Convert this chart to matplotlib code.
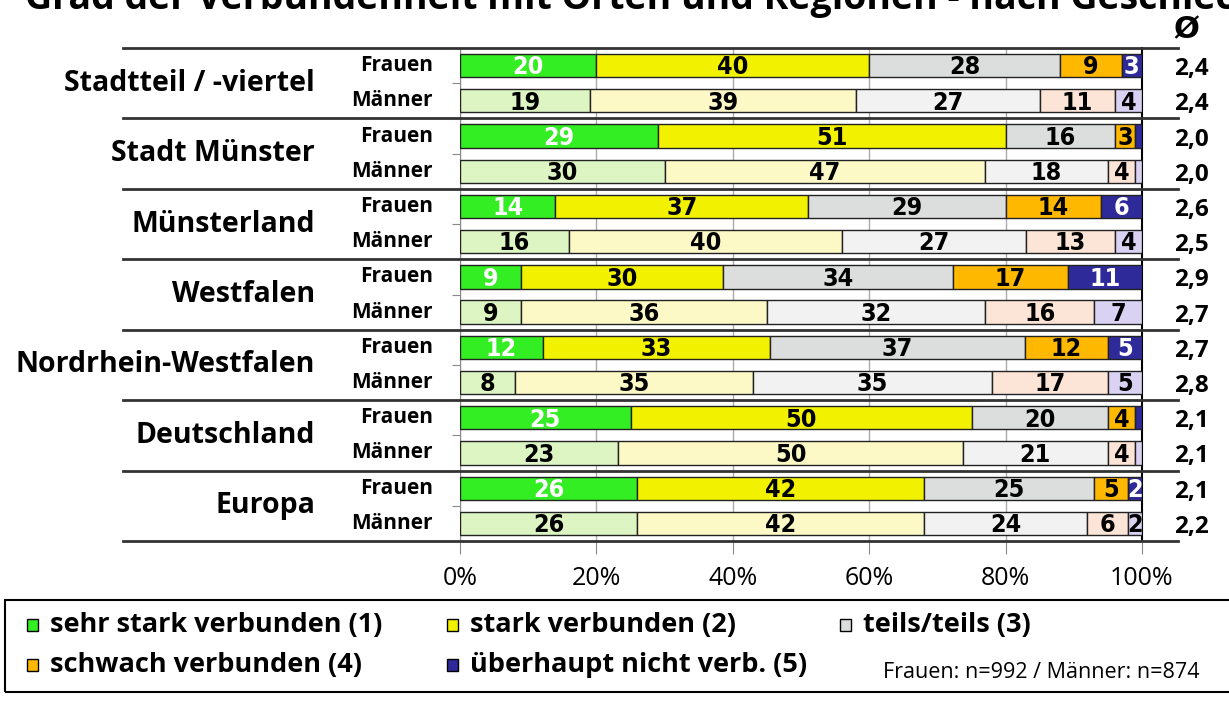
import matplotlib
matplotlib.use('Agg')
import matplotlib.pyplot as plt
from matplotlib.patches import Rectangle
from matplotlib.transforms import blended_transform_factory

# data
regions = ['Stadtteil / -viertel', 'Stadt Münster', 'Münsterland', 'Westfalen',
           'Nordrhein-Westfalen', 'Deutschland', 'Europa']
genders = ['Frauen', 'Männer']
categories = ['sehr stark verbunden (1)', 'stark verbunden (2)', 'teils/teils (3)',
              'schwach verbunden (4)', 'überhaupt nicht verb. (5)']

frauen = [[20, 40, 28, 9, 3],
          [29, 51, 16, 3, 1],
          [14, 37, 29, 14, 6],
          [9, 30, 34, 17, 11],
          [12, 33, 37, 12, 5],
          [25, 50, 20, 4, 1],
          [26, 42, 25, 5, 2]]
maenner = [[19, 39, 27, 11, 4],
           [30, 47, 18, 4, 1],
           [16, 40, 27, 13, 4],
           [9, 36, 32, 16, 7],
           [8, 35, 35, 17, 5],
           [23, 50, 21, 4, 1],
           [26, 42, 24, 6, 2]]
mean_f = ['2,4', '2,0', '2,6', '2,9', '2,7', '2,1', '2,1']
mean_m = ['2,4', '2,0', '2,5', '2,7', '2,8', '2,1', '2,2']

col_f = ['#33EE22', '#F2F200', '#DCDEDE', '#FFB800', '#2E2A9A']
col_m = ['#DDF5C2', '#FDF9C6', '#F2F2F2', '#FCE4D6', '#D9D2F2']
txt_f = ['white', 'black', 'black', 'black', 'white']

W, H = 1229, 708
fig = plt.figure(figsize=(W / 100, H / 100), dpi=100)
ax = fig.add_axes([460 / W, 1 - 541 / H, 682 / W, 493 / H])

num_font = dict(family=['DejaVu Sans'], weight='bold', stretch='condensed')
lab_font = dict(family=['Open Sans', 'DejaVu Sans'], weight='bold')

for g in range(len(regions)):
    for k, (vals, cols, tcols) in enumerate([(frauen[g], col_f, txt_f),
                                             (maenner[g], col_m, ['black'] * 5)]):
        y = 2 * g + k
        tot = sum(vals)
        left = 0
        for i, v in enumerate(vals):
            w = v / tot * 100
            ax.barh(y, w, left=left, height=0.66, color=cols[i],
                    edgecolor='#222222', linewidth=1, zorder=3)
            if v >= 2:
                ax.text(left + w / 2, y + 0.05, str(v), ha='center', va='center',
                        fontsize=18, color=tcols[i], zorder=4, **num_font)
            left += w

ax.set_xlim(0, 100)
ax.set_ylim(13.5, -0.5)
ax.set_xticks(range(0, 101, 20))
ax.set_xticklabels([f'{t}%' for t in range(0, 101, 20)],
                   fontfamily=['Open Sans', 'DejaVu Sans'], fontsize=18)
ax.set_yticks([2 * g + 0.5 for g in range(len(regions))])
ax.set_yticklabels([])
ax.tick_params(axis='x', length=9, color='#888888', pad=9)
ax.tick_params(axis='y', length=6, color='#888888')
ax.grid(axis='x', color='#AAAAAA', linewidth=1, zorder=0)
ax.set_axisbelow(True)
for s in ['top', 'bottom']:
    ax.spines[s].set_visible(False)
ax.spines['left'].set_color('#888888')
ax.spines['right'].set_color('black')
ax.spines['right'].set_linewidth(1.5)

tr = blended_transform_factory(ax.transAxes, ax.transData)
for g in range(len(regions) + 1):
    ax.plot([-0.494, 1.053], [2 * g - 0.5] * 2, transform=tr, color='#333333',
            linewidth=2, clip_on=False, zorder=5)

for g, name in enumerate(regions):
    ax.text(-0.2126, 2 * g + 0.5, name, transform=tr, ha='right', va='center',
            fontsize=20.5, **lab_font)
    for k, gname in enumerate(genders):
        ax.text(-0.04, 2 * g + k, gname, transform=tr, ha='right', va='center',
                fontsize=15, **lab_font)
    ax.text(1.073, 2 * g + 0.1, mean_f[g], transform=tr, ha='center', va='center',
            fontsize=17.5, **lab_font)
    ax.text(1.073, 2 * g + 1.1, mean_m[g], transform=tr, ha='center', va='center',
            fontsize=17.5, **lab_font)

fig.text(1186 / W, 1 - 30 / H, 'Ø', ha='center', va='center', fontsize=22,
         fontweight='bold')
fig.text(25 / W, 1 - 9 / H, 'Grad der Verbundenheit mit Orten und Regionen - nach Geschlecht',
         ha='left', va='baseline', fontsize=27, **lab_font)

# legend box
fig.patches.append(Rectangle((5 / W, 1 - 692 / H), 1.02, 92 / H, transform=fig.transFigure,
                             fill=False, edgecolor='black', linewidth=1.5))
leg_pos = [(27, 625), (447, 625), (840, 625), (27, 665), (447, 665)]
for (px, py), c, lab in zip(leg_pos, col_f, categories):
    fig.patches.append(Rectangle((px / W, 1 - (py + 6) / H), 11 / W, 12 / H,
                                 transform=fig.transFigure, facecolor=c,
                                 edgecolor='black', linewidth=1))
    fig.text((px + 23) / W, 1 - py / H, lab, ha='left', va='center', fontsize=19.5,
             **lab_font)
fig.text(883 / W, 1 - 672 / H, 'Frauen: n=992 / Männer: n=874', ha='left', va='center',
         fontsize=15.5, family=['Open Sans', 'DejaVu Sans'])

fig.savefig('out.png', dpi=100)
